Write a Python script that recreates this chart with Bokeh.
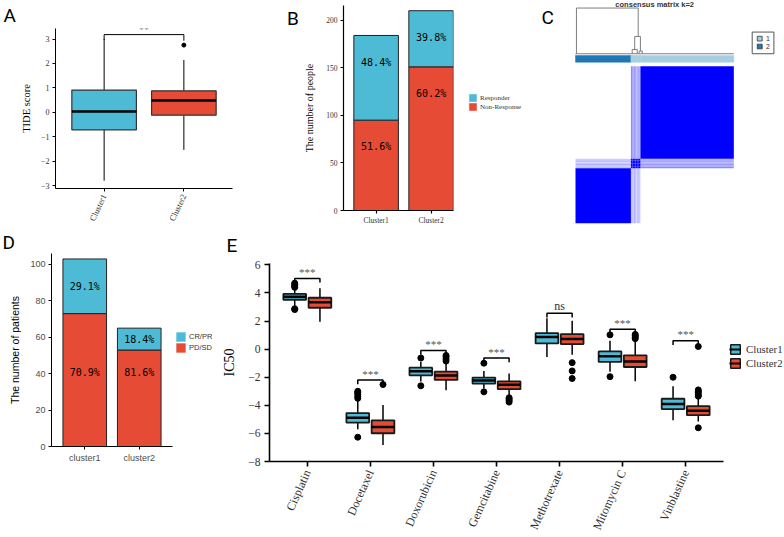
from bokeh.plotting import figure
from bokeh.models import FixedTicker, Legend, LegendItem, ColumnDataSource
from bokeh.layouts import row, column
from bokeh.embed import file_html
from bokeh.resources import INLINE
from bokeh.core.properties import value

BLUE = "#4DBBD5"
RED = "#E64B35"
SERIF = "Liberation Serif"
SANS = "Liberation Sans"
MONO = "DejaVu Sans Mono"
LETTER_FONT = "Roboto"

# ---------------- Panel A data (TIDE score) ----------------
a_groups = ["Cluster1", "Cluster2"]
a_q1 = [-0.72, -0.12]
a_med = [0.03, 0.48]
a_q3 = [0.91, 0.88]
a_lo = [-2.80, -1.54]
a_hi = [3.00, 2.14]
a_out_group = [2]
a_out_val = [2.75]
a_sig_label = "**"
a_sig_y = 3.18

# ---------------- Panel B data (responders) ----------------
b_groups = ["Cluster1", "Cluster2"]
b_nonresp = [95, 151]
b_resp = [89, 59]
b_resp_pct = ["48.4%", "39.8%"]
b_nonresp_pct = ["51.6%", "60.2%"]
b_legend = ["Responder", "Non-Response"]

# ---------------- Panel C data (consensus matrix) ----------------
c_sizes = [35, 1, 1, 1, 1, 1, 1, 59]          # cluster2 core, ambiguous samples, cluster1 core
c_member = [2, 1, 1, 1, 1, 1, 1, 1]
c_amb_c1 = [0.45, 0.30, 0.40, 0.25, 0.35, 0.30]
c_amb_c2 = [0.25, 0.20, 0.30, 0.15, 0.25, 0.20]
c_dend_h = [137.0, 118.9, 110.6, 109.6]
c_dend_lx = [0.6, 37.4, 35.8, 40.2]
c_dend_rx = [39.6, 41.0, 39.0, 42.2]
c_dend_lh = [107.9, 110.6, 107.9, 107.9]
c_dend_rh = [118.9, 109.6, 107.9, 107.9]

# ---------------- Panel D data (patients) ----------------
d_groups = ["cluster1", "cluster2"]
d_pdsd = [73, 53]
d_crpr = [30, 12]
d_crpr_pct = ["29.1%", "18.4%"]
d_pdsd_pct = ["70.9%", "81.6%"]
d_legend = ["CR/PR", "PD/SD"]

# ---------------- Panel E data (IC50) ----------------
drugs = ["Cisplatin", "Docetaxel", "Doxorubicin", "Gemcitabine", "Methotrexate", "Mitomycin C", "Vinblastine"]
e1_q1 = [3.52, -5.23, -1.86, -2.45, 0.41, -0.91, -4.27]
e1_med = [3.73, -4.88, -1.58, -2.24, 0.86, -0.51, -3.91]
e1_q3 = [3.93, -4.55, -1.32, -2.02, 1.14, -0.16, -3.53]
e1_lo = [3.10, -5.70, -2.30, -2.80, -0.56, -1.60, -5.07]
e1_hi = [4.30, -3.60, -0.90, -1.55, 2.20, 0.60, -2.64]
e1_out = [[4.4, 4.5, 4.6, 4.7, 2.88, 2.82], [-3.0, -3.1, -3.2, -3.35, -3.5, -6.27], [-0.63, -2.61],
          [-1.0, -3.04], [], [1.02, -1.96], [-2.0]]
e2_q1 = [2.95, -5.99, -2.19, -2.85, 0.36, -1.27, -4.70]
e2_med = [3.34, -5.54, -1.88, -2.54, 0.72, -0.87, -4.38]
e2_q3 = [3.66, -5.07, -1.60, -2.30, 1.07, -0.44, -4.06]
e2_lo = [1.96, -6.82, -2.92, -3.30, -0.39, -2.29, -5.15]
e2_hi = [4.33, -3.98, -1.00, -1.74, 2.03, 0.65, -3.45]
e2_out = [[], [-2.52], [-0.45, -0.55, -0.7, -0.85], [-3.46, -3.55, -3.65, -3.77], [-0.96, -1.55, -2.09],
          [0.75, 0.85, 0.95, 1.05], [-2.9, -3.0, -3.1, -3.25, -3.35, 0.19, -5.6]]
e_sig_y = [5.04, -2.2, -0.09, -0.63, 2.56, 1.42, 0.6]
e_sig = ["***", "***", "***", "***", "ns", "***", "***"]
e_legend = ["Cluster1", "Cluster2"]

TOP_H = 227
BOT_H = 310


def base_fig(**kw):
    p = figure(output_backend="svg", toolbar_location=None, frame_align=False, **kw)
    p.xgrid.visible = False
    p.ygrid.visible = False
    p.outline_line_color = None
    p.background_fill_color = "white"
    p.border_fill_color = "white"
    return p


def blank_fig(w, h, top, bottom, xr=(0, 1), yr=(0, 1)):
    return base_fig(width=w, height=h, x_range=xr, y_range=yr, min_border_left=0, min_border_right=0,
                    min_border_top=top, min_border_bottom=bottom, x_axis_location=None, y_axis_location=None)


def letter_strip(w, h, x, y, t):
    s = blank_fig(w, h, 0, 0, xr=(0, w), yr=(0, h))
    s.text([x], [y], text=[t], text_font=value(LETTER_FONT), text_font_size="19px", text_color="black",
           text_baseline="alphabetic")
    return s


def set_letter(p, t, offset, standoff):
    p.title.text = t
    p.title.align = "left"
    p.title.offset = offset
    p.title.standoff = standoff
    p.title.text_font = LETTER_FONT
    p.title.text_font_size = "19px"
    p.title.text_font_style = "normal"
    p.title.text_color = "black"


def style_axis(ax, font, tick_size, label_size, color="#333333", lw=1.0, tick_out=3):
    ax.axis_line_color = "black"
    ax.axis_line_width = lw
    ax.major_tick_line_color = "black"
    ax.major_tick_line_width = lw
    ax.major_tick_in = 0
    ax.major_tick_out = tick_out
    ax.minor_tick_line_color = None
    ax.major_label_text_font = font
    ax.major_label_text_font_size = tick_size
    ax.major_label_text_color = color
    ax.axis_label_text_font = font
    ax.axis_label_text_font_size = label_size
    ax.axis_label_text_font_style = "normal"
    ax.axis_label_text_color = "black"


def legend_fig(w, h, top, bottom, labels, colors, loc, gsize, font, fsize, standoff, spacing, kind="bar"):
    # legend drawn in its own small panel; the key glyphs sit outside the visible range
    f = blank_fig(w, h, top, bottom)
    items = []
    for lab, col in zip(labels, colors):
        if kind == "box":
            rs = [f.quad(left=[5], right=[6], bottom=[5], top=[6], fill_color=col, line_color="#1a1a1a",
                         line_width=1.5),
                  f.segment(x0=[5], y0=[5], x1=[6], y1=[5], line_color="black", line_width=2)]
        else:
            rs = [f.quad(left=[5], right=[6], bottom=[5], top=[6], fill_color=col, line_color=col, line_width=0.5)]
        items.append(LegendItem(label=lab, renderers=rs))
    leg = Legend(items=items, location=loc, padding=0, margin=0, spacing=spacing, glyph_width=gsize,
                 glyph_height=gsize, label_height=gsize, label_standoff=standoff, label_text_font=font,
                 label_text_font_size=fsize, label_text_color="#333333", border_line_color=None,
                 background_fill_alpha=0)
    f.add_layout(leg)
    return f


# ======================= Panel A =======================
pA = base_fig(width=250, height=TOP_H, x_range=(0.39, 2.61), y_range=(-3.12, 3.43),
              min_border_left=55, min_border_right=18, min_border_top=27, min_border_bottom=36)
set_letter(pA, "A", -52, 3)
ax = [i + 1 for i in range(len(a_groups))]
hw = 0.405
srcA = ColumnDataSource(dict(x=ax, l=[v - hw for v in ax], r=[v + hw for v in ax], q1=a_q1, q3=a_q3,
                             med=a_med, lo=a_lo, hi=a_hi, c=[BLUE, RED]))
pA.segment(x0="x", y0="q3", x1="x", y1="hi", source=srcA, line_color="black", line_width=1)
pA.segment(x0="x", y0="q1", x1="x", y1="lo", source=srcA, line_color="black", line_width=1)
pA.quad(left="l", right="r", bottom="q1", top="q3", source=srcA, fill_color="c", line_color="#333333", line_width=1.2)
pA.segment(x0="l", y0="med", x1="r", y1="med", source=srcA, line_color="black", line_width=2.5)
pA.scatter(a_out_group, a_out_val, size=4, color="black")
pA.multi_line([[1, 1, 2, 2]], [[a_sig_y - 0.22, a_sig_y, a_sig_y, a_sig_y - 0.25]], line_color="black", line_width=1)
pA.text([1.5], [a_sig_y - 0.02], text=[a_sig_label], text_align="center", text_baseline="bottom",
        text_font=value(SERIF), text_font_size="10px", text_color="#333333")
pA.xaxis.ticker = FixedTicker(ticks=ax)
pA.xaxis.major_label_overrides = {i + 1: g for i, g in enumerate(a_groups)}
pA.xaxis.major_label_orientation = 1.13
pA.yaxis.ticker = FixedTicker(ticks=[-3, -2, -1, 0, 1, 2, 3])
pA.yaxis.axis_label = "TIDE score"
style_axis(pA.xaxis[0], SERIF, "8.5px", "10px")
style_axis(pA.yaxis[0], SERIF, "8px", "10.5px")
pA.xaxis.major_label_standoff = 3
pA.yaxis.major_label_standoff = 3
pA.yaxis.axis_label_standoff = 6

# ======================= Panel B =======================
B_TOP, B_BOT = 5, 13
B_YR = (0, 215.5)
sB = blank_fig(50, TOP_H, B_TOP, B_BOT, xr=(0, 50), yr=B_YR)
sB.text([36.5], [202], text=["B"], text_font=value(LETTER_FONT), text_font_size="19px", text_color="black",
        text_baseline="alphabetic")
pB = base_fig(width=155, height=TOP_H, x_range=(0.407, 2.407), y_range=B_YR,
              min_border_left=43, min_border_right=2, min_border_top=B_TOP, min_border_bottom=B_BOT)
bx = [i + 1 for i in range(len(b_groups))]
b_tot = [a + b for a, b in zip(b_nonresp, b_resp)]
pB.vbar(x=bx, bottom=0, top=b_nonresp, width=0.81, fill_color=RED, line_color="#222222", line_width=1)
pB.vbar(x=bx, bottom=b_nonresp, top=b_tot, width=0.81, fill_color=BLUE, line_color="#222222", line_width=1)
pB.text(bx, [t - 28 for t in b_tot], text=b_resp_pct, text_align="center", text_baseline="middle",
        text_font=value(MONO), text_font_size="10px", text_color="black")
pB.text(bx, [t - 28 for t in b_nonresp], text=b_nonresp_pct, text_align="center", text_baseline="middle",
        text_font=value(MONO), text_font_size="10px", text_color="black")
pB.xaxis.ticker = FixedTicker(ticks=bx)
pB.xaxis.major_label_overrides = {i + 1: g for i, g in enumerate(b_groups)}
pB.yaxis.ticker = FixedTicker(ticks=[0, 50, 100, 150, 200])
pB.yaxis.axis_label = "The number of people"
style_axis(pB.xaxis[0], SERIF, "7.5px", "10px", lw=1.2)
style_axis(pB.yaxis[0], SERIF, "7.5px", "10px", lw=1.2)
pB.xaxis.major_label_standoff = 2
pB.yaxis.major_label_standoff = 3
pB.yaxis.axis_label_standoff = 8
lB = legend_fig(85, TOP_H, B_TOP, B_BOT, b_legend, [BLUE, RED], (13, 103), 9, SERIF, "7px", 3, 0)

# ======================= Panel C =======================
pC = base_fig(width=244, height=TOP_H, x_range=(-22.1, 132.0), y_range=(-2.74, 141.8),
              min_border_left=0, min_border_right=0, min_border_top=0, min_border_bottom=0,
              x_axis_location=None, y_axis_location=None)
edges = [0]
for s in c_sizes:
    edges.append(edges[-1] + s)
n = len(c_sizes)


def consensus(i, j):
    if c_member[i] != c_member[j]:
        if 1 <= i <= 6 and j == 0:
            return c_amb_c2[i - 1]
        if 1 <= j <= 6 and i == 0:
            return c_amb_c2[j - 1]
        return 0.0
    if 1 <= i <= 6 and 1 <= j <= 6:
        return 1.0
    if 1 <= i <= 6:
        return c_amb_c1[i - 1]
    if 1 <= j <= 6:
        return c_amb_c1[j - 1]
    return 1.0


hl, hr, hb, ht, ha = [], [], [], [], []
for i in range(n):
    for j in range(n):
        v = consensus(i, j)
        if v > 0:
            hl.append(edges[j]); hr.append(edges[j + 1])
            hb.append(edges[i]); ht.append(edges[i + 1]); ha.append(v)
pC.quad(left=hl, right=hr, bottom=hb, top=ht, fill_color="#0000FF", fill_alpha=ha, line_color=None)
bar_l, bar_r, bar_c = [], [], []
for k in range(n):
    bar_l.append(edges[k]); bar_r.append(edges[k + 1])
    bar_c.append("#1F78B4" if c_member[k] == 2 else "#A6CEE3")
pC.quad(left=bar_l, right=bar_r, bottom=102.5, top=106.8, fill_color=bar_c, line_color=bar_c, line_width=0.5)
xs = [[lx, lx, rx, rx] for lx, rx in zip(c_dend_lx, c_dend_rx)]
ys = [[lh, h, h, rh] for lh, h, rh in zip(c_dend_lh, c_dend_h, c_dend_rh)]
pC.multi_line(xs, ys, line_color="#7f7f7f", line_width=1)
pC.segment(x0=[0], y0=[107.9], x1=[edges[-1]], y1=[107.9], line_color="#7f7f7f", line_width=1.2)
pC.text([50], [139.0], text=["consensus matrix k=2"], text_align="center", text_baseline="middle",
        text_font=value(SANS), text_font_style="bold", text_font_size="7.5px", text_color="#333333")
pC.quad(left=[111.6], right=[125.3], bottom=[107.9], top=[121.7], fill_color=None, line_color="#555555", line_width=1)
pC.quad(left=[114.8, 114.8], right=[117.9, 117.9], bottom=[116.0, 111.0], top=[119.0, 114.0],
        fill_color=["#A6CEE3", "#1F78B4"], line_color="#333333", line_width=0.8)
pC.text([120.3, 120.3], [117.5, 112.5], text=["1", "2"], text_baseline="middle", text_font=value(SANS),
        text_font_size="7px", text_color="#333333")
pC.text([-21.5], [131.0], text=["C"], text_font=value(LETTER_FONT), text_font_size="19px",
        text_color="black", text_baseline="alphabetic")

# ======================= Panel D =======================
D_TOP, D_BOT = 26, 91
sD = letter_strip(174, 24, 2, 9, "D")
pD = base_fig(width=174, height=BOT_H - 24, x_range=(0.39, 2.61), y_range=(0, 106.0),
              min_border_left=51, min_border_right=2, min_border_top=D_TOP - 24, min_border_bottom=D_BOT)
dx = [i + 1 for i in range(len(d_groups))]
d_tot = [a + b for a, b in zip(d_pdsd, d_crpr)]
pD.vbar(x=dx, bottom=0, top=d_pdsd, width=0.8, fill_color=RED, line_color="#222222", line_width=1)
pD.vbar(x=dx, bottom=d_pdsd, top=d_tot, width=0.8, fill_color=BLUE, line_color="#222222", line_width=1)
pD.text(dx, [(a + b) / 2 for a, b in zip(d_pdsd, d_tot)], text=d_crpr_pct, text_align="center",
        text_baseline="middle", text_font=value(MONO), text_font_size="10px", text_color="black")
pD.text(dx, [40.5, 40.5], text=d_pdsd_pct, text_align="center",
        text_baseline="middle", text_font=value(MONO), text_font_size="10px", text_color="black")
pD.xaxis.ticker = FixedTicker(ticks=dx)
pD.xaxis.major_label_overrides = {i + 1: g for i, g in enumerate(d_groups)}
pD.yaxis.ticker = FixedTicker(ticks=[0, 20, 40, 60, 80, 100])
pD.yaxis.axis_label = "The number of patients"
style_axis(pD.xaxis[0], SANS, "9px", "10.5px", color="#4d4d4d")
style_axis(pD.yaxis[0], SANS, "9px", "10.5px", color="#4d4d4d")
pD.xaxis.major_label_standoff = 3
pD.yaxis.major_label_standoff = 3
pD.yaxis.axis_label_standoff = 6
lD = legend_fig(45, BOT_H, D_TOP, D_BOT, d_legend, [BLUE, RED], (1, 93), 11, SANS, "7.5px", 3, 0)

# ======================= Panel E =======================
E_TOP, E_BOT = 36, 75
sE = letter_strip(507, 30, 7, 12, "E")
pE = base_fig(width=507, height=BOT_H - 30, x_range=(0.4, 7.6), y_range=(-8.0, 6.1),
              min_border_left=48, min_border_right=3, min_border_top=E_TOP - 30, min_border_bottom=E_BOT)
ex = [i + 1 for i in range(len(drugs))]
off = 0.2
bw = 0.18


def boxes(xc, q1, med, q3, lo, hi, outs, color):
    src = ColumnDataSource(dict(x=xc, l=[v - bw for v in xc], r=[v + bw for v in xc], q1=q1, q3=q3,
                                med=med, lo=lo, hi=hi))
    pE.segment(x0="x", y0="q3", x1="x", y1="hi", source=src, line_color="black", line_width=1.5)
    pE.segment(x0="x", y0="q1", x1="x", y1="lo", source=src, line_color="black", line_width=1.5)
    pE.quad(left="l", right="r", bottom="q1", top="q3", source=src, fill_color=color,
            line_color="#1a1a1a", line_width=1.8)
    pE.segment(x0="l", y0="med", x1="r", y1="med", source=src, line_color="black", line_width=2.5)
    ox, oy = [], []
    for xv, lst in zip(xc, outs):
        for v in lst:
            ox.append(xv); oy.append(v)
    pE.scatter(ox, oy, size=6, color="black")


boxes([v - off for v in ex], e1_q1, e1_med, e1_q3, e1_lo, e1_hi, e1_out, BLUE)
boxes([v + off for v in ex], e2_q1, e2_med, e2_q3, e2_lo, e2_hi, e2_out, RED)
bxs = [[v - off, v - off, v + off, v + off] for v in ex]
bys = [[y - 0.3, y, y, y - 0.3] for y in e_sig_y]
pE.multi_line(bxs, bys, line_color="black", line_width=1.5)
star_x = [v for v, s in zip(ex, e_sig) if s != "ns"]
star_y = [y + 0.02 for y, s in zip(e_sig_y, e_sig) if s != "ns"]
pE.text(star_x, star_y, text=["***"] * len(star_x), text_align="center", text_baseline="bottom",
        text_font=value(SERIF), text_font_size="11px", text_color="#555555")
ns_x = [v for v, s in zip(ex, e_sig) if s == "ns"]
ns_y = [y + 0.05 for y, s in zip(e_sig_y, e_sig) if s == "ns"]
pE.text(ns_x, ns_y, text=["ns"] * len(ns_x), text_align="center", text_baseline="bottom",
        text_font=value(SERIF), text_font_size="12px", text_color="#333333")
pE.xaxis.ticker = FixedTicker(ticks=ex)
pE.xaxis.major_label_overrides = {i + 1: d for i, d in enumerate(drugs)}
pE.xaxis.major_label_orientation = 1.15
pE.yaxis.ticker = FixedTicker(ticks=[-8, -6, -4, -2, 0, 2, 4, 6])
pE.yaxis.axis_label = "IC50"
style_axis(pE.xaxis[0], SERIF, "12px", "13px", lw=1.6, tick_out=5)
style_axis(pE.yaxis[0], SERIF, "11.5px", "14px", lw=1.6, tick_out=5)
pE.xaxis.major_label_standoff = 4
pE.yaxis.major_label_standoff = 4
pE.yaxis.axis_label_standoff = 8
lE = legend_fig(58, BOT_H, E_TOP, E_BOT, e_legend, [BLUE, RED], (3, 93), 12, SERIF, "10.8px", 5, 2, kind="box")

top = row(pA, sB, pB, lB, pC)
bottom = row(column(sD, pD), lD, column(sE, pE), lE)
layout = column(top, bottom)
open("out.html", "w").write(file_html(layout, INLINE))
